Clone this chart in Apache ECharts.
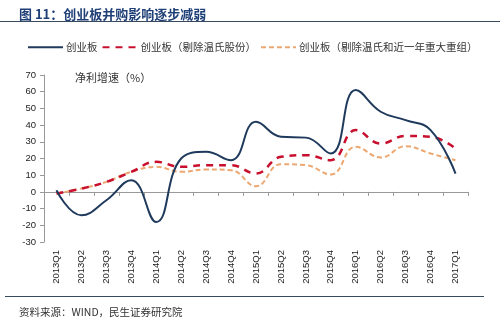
<!DOCTYPE html>
<html><head><meta charset="utf-8">
<script src="https://cdn.jsdelivr.net/npm/echarts@6/dist/echarts.min.js"></script>
<style>html,body{margin:0;padding:0;background:#fff}#c{width:500px;height:327px}</style>
</head><body><div id="c"></div>
<script>
const categories = ['2013Q1','2013Q2','2013Q3','2013Q4','2014Q1','2014Q2','2014Q3','2014Q4','2015Q1','2015Q2','2015Q3','2015Q4','2016Q1','2016Q2','2016Q3','2016Q4','2017Q1'];
const seriesNames = ['创业板','创业板（剔除温氏股份）','创业板（剔除温氏和近一年重大重组）'];
const gem = [1,-14,-5,7,-18,20,24,19,42,33,32.5,23,61,48,43,37,11];
const gemExWens = [-1,2,6,12,18,15,16,16,11,21,22,19,37,29,33.5,33,26];
const gemExWensMA = [-1,2,6,12,15,12,13.4,13,3.4,16.6,16,10.4,27,20.6,27.4,23,19];
const yTicks = {min:-30, max:70, interval:10};
const titleText = '图 11：创业板并购影响逐步减弱';
const unitText = '净利增速（%）';
const sourceText = '资料来源：WIND，民生证券研究院';

const chart = echarts.init(document.getElementById('c'), null, {renderer:'canvas'});
const cjk = '"Noto Sans CJK SC", sans-serif';
chart.setOption({
  animation:false,
  backgroundColor:'#fff',
  title:[
    {text:titleText, left:14, top:3, textStyle:{fontFamily:cjk, fontSize:13, fontWeight:'bold', color:'#1F3F77'}},
    {text:unitText, left:70, top:67, textStyle:{fontFamily:cjk, fontSize:11, fontWeight:'normal', color:'#333'}},
    {text:sourceText, left:14, top:302, textStyle:{fontFamily:cjk, fontSize:10.5, fontWeight:'normal', color:'#333'}}
  ],
  graphic:[
    {type:'line', shape:{x1:0,y1:21.5,x2:500,y2:21.5}, style:{stroke:'#3a4a5e', lineWidth:1}},
    {type:'line', shape:{x1:5,y1:296.5,x2:484,y2:296.5}, style:{stroke:'#3a4a5e', lineWidth:1}}
  ],
  legend:{
    left:22, top:37, itemWidth:35, itemHeight:10, itemGap:4,
    itemStyle:{opacity:0},
    textStyle:{fontFamily:cjk, fontSize:10.5, color:'#333', padding:[0,0,0,-2]},
    data:seriesNames
  },
  grid:{left:44, right:32, top:75, bottom:85, containLabel:false, outerBoundsMode:'none'},
  xAxis:{
    type:'category', data:categories, boundaryGap:true,
    axisLine:{onZero:true, lineStyle:{color:'#999', width:1}},
    axisTick:{show:true, alignWithLabel:false, length:4, lineStyle:{color:'#999'}},
    axisLabel:{rotate:90, margin:8, fontFamily:'"Liberation Sans", Arial, sans-serif', fontSize:9.5, color:'#222', interval:0}
  },
  yAxis:{
    type:'value', min:yTicks.min, max:yTicks.max, interval:yTicks.interval,
    splitLine:{show:false},
    axisLine:{show:true, lineStyle:{color:'#999'}},
    axisTick:{show:true, length:4, lineStyle:{color:'#999'}},
    axisLabel:{margin:8, fontFamily:'"Liberation Sans", Arial, sans-serif', fontSize:9.5, color:'#222'}
  },
  series:[
    {name:seriesNames[0], type:'line', data:gem, smooth:0.45, symbol:'none', z:3,
     lineStyle:{color:'#1F3A5C', width:2}, itemStyle:{color:'#1F3A5C'}},
    {name:seriesNames[1], type:'line', data:gemExWens, smooth:0.45, symbol:'none', z:2,
     lineStyle:{color:'#C8102E', width:2.5, type:[7,6]}, itemStyle:{color:'#C8102E'}},
    {name:seriesNames[2], type:'line', data:gemExWensMA, smooth:0.45, symbol:'none', z:1,
     lineStyle:{color:'#EBA872', width:2, type:[5,3]}, itemStyle:{color:'#EBA872'}}
  ]
});
</script></body></html>
